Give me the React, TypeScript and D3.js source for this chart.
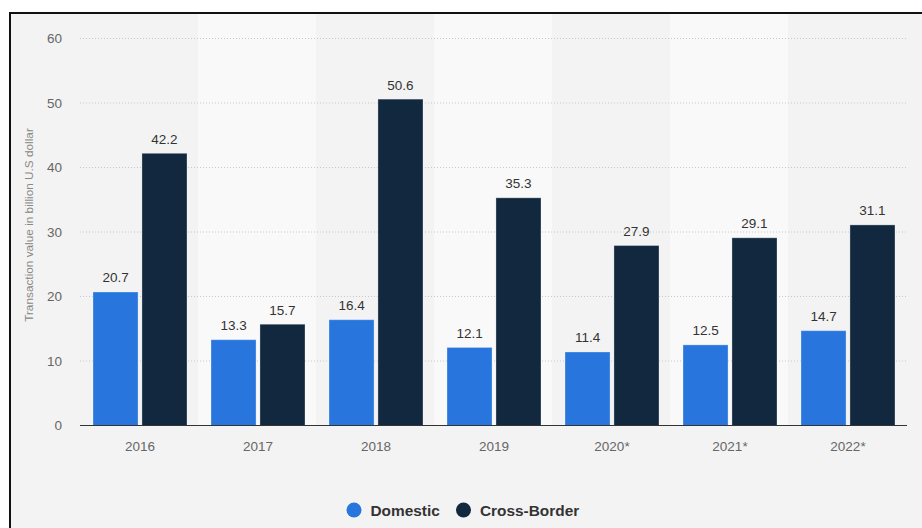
import React from "react";
import * as d3 from "d3";

const categories = ["2016", "2017", "2018", "2019", "2020*", "2021*", "2022*"];
const seriesNames = ["Domestic", "Cross-Border"];
const domestic = [20.7, 13.3, 16.4, 12.1, 11.4, 12.5, 14.7];
const crossBorder = [42.2, 15.7, 50.6, 35.3, 27.9, 29.1, 31.1];
const yTicks = [0, 10, 20, 30, 40, 50, 60];
const colors = ["#2876dd", "#11283f"];
const yTitle = "Transaction value in billion U.S dollar";

const W = 922;
const H = 528;
const FONT = "'Liberation Sans', Arial, Helvetica, sans-serif";

export default function App() {
  const x = d3.scaleBand<string>().domain(categories).range([80, 906]).paddingInner(0).paddingOuter(0);
  const bw = x.bandwidth();
  const x1 = d3.scaleBand<string>().domain(seriesNames).range([13, bw - 11]).paddingInner(0.08).paddingOuter(0);
  const y = d3.scaleLinear().domain([0, 60]).range([425.5, 38.5]);
  const series = [domestic, crossBorder];

  return (
    <svg width={W} height={H} style={{ position: "absolute", left: 0, top: 0, display: "block" }} fontFamily={FONT}>
      <rect x={0} y={0} width={W} height={H} fill="#ffffff" />
      <rect x={10} y={13} width={W - 10} height={H - 13} fill="#f3f3f3" />
      {categories.map((c, i) =>
        i % 2 === 1 ? (
          <rect key={c} x={x(c)} y={14} width={bw} height={y(0) - 14} fill="#f9f9f9" />
        ) : null
      )}
      {yTicks.filter((t) => t > 0).map((t) => (
        <line key={t} x1={80} x2={906} y1={y(t)} y2={y(t)} stroke="#c8c8c8" strokeWidth={1} strokeDasharray="1,2" />
      ))}
      {yTicks.map((t) => (
        <text key={t} x={62} y={y(t)} dy="0.35em" textAnchor="end" fontSize={13.5} fill="#666">
          {t}
        </text>
      ))}
      <text transform={`translate(33,225) rotate(-90)`} textAnchor="middle" fontSize={11.8} fill="#888">
        {yTitle}
      </text>
      {categories.map((c, i) => (
        <g key={c}>
          {series.map((vals, s) => {
            const bx = (x(c) as number) + (x1(seriesNames[s]) as number);
            const by = y(vals[i]);
            return (
              <g key={s}>
                <rect x={bx} y={by} width={x1.bandwidth()} height={y(0) - by} fill={colors[s]} stroke="rgba(255,255,255,0.3)" strokeWidth={1} />
                <text x={bx + x1.bandwidth() / 2} y={by - 9.5} textAnchor="middle" fontSize={13.5} fill="#333">
                  {vals[i]}
                </text>
              </g>
            );
          })}
          <text x={(x(c) as number) + bw / 2 + 1} y={451} textAnchor="middle" fontSize={13.5} fill="#666">
            {c}
          </text>
        </g>
      ))}
      <line x1={80} x2={907} y1={y(0)} y2={y(0)} stroke="#333" strokeWidth={1} />
      <line x1={10} x2={10} y1={12} y2={H} stroke="#111" strokeWidth={2} />
      <line x1={9} x2={W} y1={13} y2={13} stroke="#111" strokeWidth={2} />
      {seriesNames.map((n, i) => {
        const cx = i === 0 ? 354 : 463.5;
        return (
          <g key={n}>
            <circle cx={cx} cy={510} r={7.5} fill={colors[i]} />
            <text x={cx + 16.5} y={516} fontSize={15.4} fontWeight="bold" fill="#333">
              {n}
            </text>
          </g>
        );
      })}
    </svg>
  );
}
